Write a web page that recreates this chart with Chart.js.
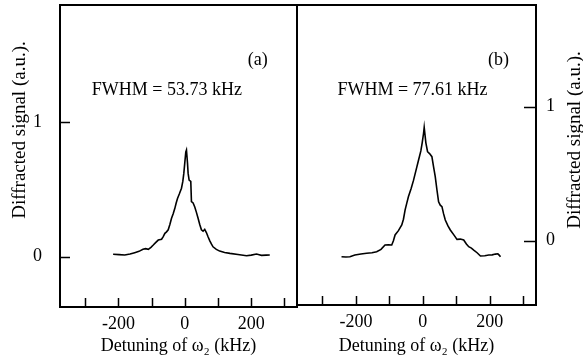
<!DOCTYPE html>
<html>
<head>
<meta charset="utf-8">
<script src="https://cdn.jsdelivr.net/npm/chart.js@4/dist/chart.umd.min.js"></script>
<style>
  html, body { margin: 0; padding: 0; background: #fff; }
  #wrap { position: relative; width: 583px; height: 360px; overflow: hidden; }
  canvas { position: absolute; top: 0; }
</style>
</head>
<body>
<div id="wrap">
  <canvas id="cA" width="300" height="360" style="left:0px"></canvas>
  <canvas id="cB" width="293" height="360" style="left:290px"></canvas>
</div>
<script>
// ---- data ----
const detuningA = [-216,-198,-181,-165,-151,-138,-126,-118,-110,-102,-95,-88,-80,-70,-65,-60,-55,-50,-45,-40,-35,-30,-26,-22,-16,-10,-6,-3,0,3,5,8,10,13,18,20,25,30,35,40,45,50,55,60,65,70,75,80,85,95,105,120,136,160,186,200,216,224,231,245,256];
const signalA   = [0.018,0.016,0.013,0.02,0.03,0.04,0.055,0.06,0.055,0.07,0.087,0.105,0.124,0.13,0.15,0.174,0.185,0.2,0.24,0.286,0.32,0.36,0.4,0.434,0.47,0.51,0.56,0.62,0.7,0.78,0.794,0.7,0.62,0.57,0.56,0.41,0.4,0.37,0.33,0.286,0.24,0.2,0.19,0.204,0.18,0.149,0.12,0.095,0.074,0.055,0.042,0.032,0.025,0.016,0.007,0.012,0.02,0.015,0.01,0.012,0.013];
const detuningB = [-243,-230,-218,-203,-185,-168,-152,-138,-125,-113,-103,-93,-88,-83,-73,-63,-58,-53,-48,-43,-35,-28,-20,-13,-6,-2,2,4,9,14,20,27,32,37,42,47,52,57,62,67,75,82,92,102,112,122,130,137,145,152,162,172,185,197,207,217,224,228,232];
const signalB   = [-0.12,-0.122,-0.12,-0.107,-0.1,-0.094,-0.09,-0.082,-0.065,-0.032,-0.03,-0.032,0.0,0.043,0.075,0.117,0.16,0.23,0.28,0.33,0.39,0.45,0.53,0.6,0.67,0.73,0.8,0.846,0.73,0.664,0.65,0.627,0.55,0.478,0.38,0.29,0.265,0.254,0.2,0.154,0.11,0.08,0.045,0.01,0.012,0.005,-0.025,-0.045,-0.055,-0.07,-0.09,-0.114,-0.112,-0.107,-0.106,-0.1,-0.098,-0.108,-0.12];
const xTickValues = [-300,-200,-100,0,100,200,300];
const xTickLabels = {"-200":"-200","0":"0","200":"200"};
const yTickValues = [0,1];
const panelLabels = ["(a)","(b)"];
const fwhmLabels  = ["FWHM = 53.73 kHz","FWHM = 77.61 kHz"];
const xTitle = "Detuning of \u03C9\u2082 (kHz)";
const yTitle = "Diffracted signal (a.u.).";

Chart.defaults.font.family = "'Liberation Serif', 'Times New Roman', serif";
Chart.defaults.color = '#000';

const framePlugin = {
  id: 'frame',
  afterDraw(chart, args, opts) {
    const ctx = chart.ctx, ca = chart.chartArea;
    const xs = chart.scales.x, ys = chart.scales.y;
    ctx.save();
    ctx.strokeStyle = '#000';
    ctx.lineWidth = 2;
    ctx.strokeRect(ca.left, ca.top, ca.right - ca.left, ca.bottom - ca.top);
    ctx.lineWidth = 1.5;
    ctx.beginPath();
    xs.ticks.forEach(t => {
      const px = Math.round(xs.getPixelForValue(t.value)) + 0.5;
      ctx.moveTo(px, ca.bottom); ctx.lineTo(px, ca.bottom - 9);
    });
    ys.ticks.forEach(t => {
      const py = Math.round(ys.getPixelForValue(t.value)) + 0.5;
      if (opts.side === 'left') { ctx.moveTo(ca.left, py); ctx.lineTo(ca.left + 10, py); }
      else { ctx.moveTo(ca.right, py); ctx.lineTo(ca.right - 12, py); }
    });
    ctx.stroke();
    // annotations
    ctx.fillStyle = '#000';
    ctx.textAlign = 'center';
    ctx.textBaseline = 'middle';
    ctx.font = "18px 'Liberation Serif', serif";
    (opts.notes || []).forEach(n => {
      ctx.fillText(n.text, xs.getPixelForValue(n.x), ys.getPixelForValue(n.y));
    });
    // y title (rotated, reading bottom to top)
    ctx.font = "19px 'Liberation Serif', serif";
    const tx = opts.side === 'left' ? opts.titleX : ca.right + opts.titleX;
    ctx.translate(tx, opts.titleY);
    ctx.rotate(-Math.PI / 2);
    ctx.fillText(yTitle, 0, 0);
    ctx.restore();
  }
};

function makeChart(id, xsArr, ysArr, yMin, yMax, side, pad, yWidth, xHeight, notes, titleX, titleY) {
  return new Chart(document.getElementById(id), {
    type: 'line',
    data: {
      datasets: [{
        data: xsArr.map((x, i) => ({x: x, y: ysArr[i]})),
        borderColor: '#000',
        borderWidth: 1.6,
        pointRadius: 0,
        tension: 0,
        fill: false
      }]
    },
    options: {
      responsive: false,
      animation: false,
      layout: { padding: pad },
      plugins: {
        legend: { display: false },
        tooltip: { enabled: false },
        frame: { side: side, notes: notes, titleX: titleX, titleY: titleY }
      },
      scales: {
        x: {
          type: 'linear',
          min: -376, max: 338,
          grid: { display: false, drawTicks: false },
          border: { display: false },
          afterBuildTicks: s => { s.ticks = xTickValues.map(v => ({value: v})); },
          afterFit: s => { s.height = xHeight; s.paddingLeft = 0; s.paddingRight = 0; },
          ticks: {
            autoSkip: false,
            maxRotation: 0,
            padding: 6,
            font: { size: 18 },
            callback: v => xTickLabels[String(v)] || ''
          },
          title: { display: true, text: xTitle, font: { size: 18 }, padding: { top: 0, bottom: 3 } }
        },
        y: {
          position: side,
          min: yMin, max: yMax,
          grid: { display: false, drawTicks: false },
          border: { display: false },
          afterBuildTicks: s => { s.ticks = yTickValues.map(v => ({value: v})); },
          afterFit: s => { s.width = yWidth; s.paddingTop = 0; s.paddingBottom = 0; },
          ticks: { padding: side === 'left' ? 18 : 10, font: { size: 18 } }
        }
      }
    },
    plugins: [framePlugin]
  });
}

makeChart('cA', detuningA, signalA, -0.374, 1.873, 'left',
  { top: 5, right: 3, left: 0, bottom: 0 }, 60, 53,
  [{text: panelLabels[0], x: 220, y: 1.46}, {text: fwhmLabels[0], x: -54, y: 1.24}], 20, 130);
makeChart('cB', detuningB, signalB, -0.48, 1.759, 'right',
  { top: 5, right: 0, left: 7, bottom: 0 }, 47, 55,
  [{text: panelLabels[1], x: 226, y: 1.35}, {text: fwhmLabels[1], x: -31, y: 1.125}], 39, 140);
</script>
</body>
</html>
